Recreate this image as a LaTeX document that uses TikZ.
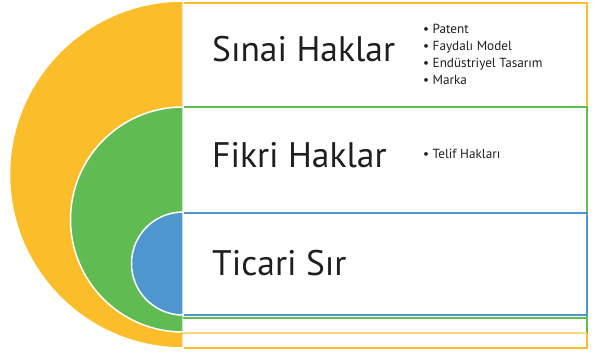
\documentclass[tikz,border=0pt]{standalone}
\usepackage{fontspec}
\setmainfont{PT Sans}
\definecolor{sinai}{RGB}{252,189,42}
\definecolor{sinailight}{RGB}{253,215,130}
\definecolor{fikri}{RGB}{96,187,82}
\definecolor{ticari}{RGB}{79,150,207}
\begin{document}
\begin{tikzpicture}[x=1pt,y=-1pt,
  box/.style={line width=2,fill=white},
  disc/.style={draw=white,line width=1.5},
  title/.style={anchor=base west,inner sep=0,text=black!88,font=\fontsize{35.5}{36}\selectfont},
  items/.style={anchor=base west,inner sep=0,align=left,text=black!88,font=\fontsize{13.2}{17}\selectfont}]
  \useasboundingbox (0,0) rectangle (598,354);
  % outer ring
  \draw[box,draw=sinai] (183,3) rectangle (587,348);
  \fill[disc,fill=sinai] (183,348) arc[start angle=90,end angle=270,radius=173.5] -- cycle;
  % middle ring
  \draw[box,draw=fikri] (183,107) rectangle (587,333);
  \draw[sinailight,line width=1.5] (183,333) -- (587,333);
  \fill[disc,fill=fikri] (183,332) arc[start angle=90,end angle=270,radius=112.5] -- cycle;
  % inner ring
  \draw[fikri,line width=1.5] (183,318) -- (587,318);
  \draw[box,draw=ticari] (183,213) rectangle (587,315);
  \fill[disc,fill=ticari] (183,315) arc[start angle=90,end angle=270,radius=51.5] -- cycle;
  % texts
  \node[title] (sinai) at (212,61) {Sınai Haklar};
  \node[title] (fikri) at (212,167) {Fikri Haklar};
  \node[title] (ticari) at (212,275) {Ticari Sır};
  % base of a list node is its last line
  \node[items] (sinailist) at (423,84) {• Patent\\• Faydalı Model\\• Endüstriyel Tasarım\\• Marka};
  \node[items] (fikrilist) at (423,158) {• Telif Hakları};
\end{tikzpicture}
\end{document}
